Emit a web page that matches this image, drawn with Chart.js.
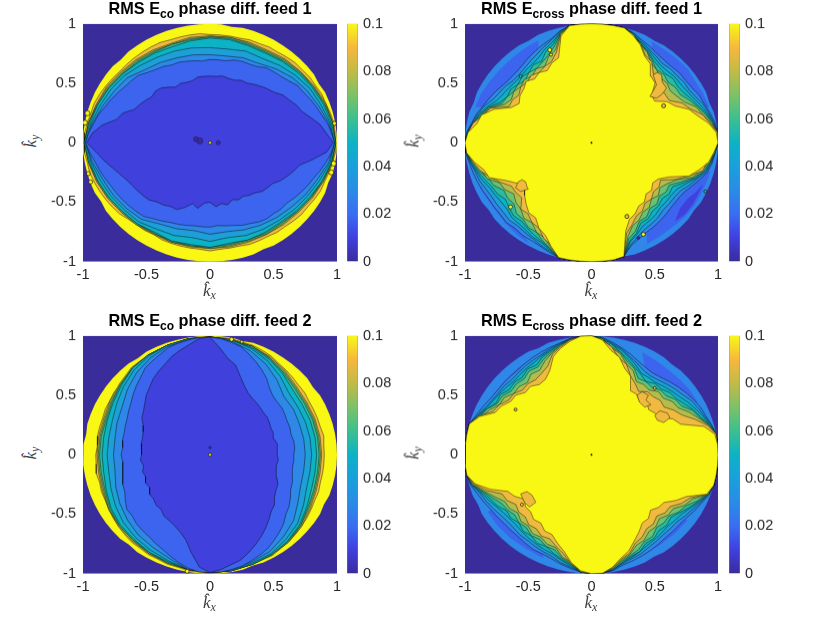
<!DOCTYPE html>
<html><head><meta charset="utf-8">
<script src="https://cdn.jsdelivr.net/npm/chart.js@4"></script>
<style>
html,body{margin:0;padding:0;background:#fff;width:830px;height:623px;overflow:hidden}
canvas{position:absolute;display:block}
.t{position:absolute;font:bold 16.3px "Liberation Sans",sans-serif;color:#000;white-space:nowrap;transform:translateX(-50%)}
.t sub{font-size:12px;line-height:0;vertical-align:-4px}
.l{position:absolute;font:italic 17px "Liberation Serif",serif;color:#404040;white-space:nowrap}
.l sub{font-size:12px;line-height:0;vertical-align:-3px}
</style></head><body>
<script>
const xTicks=[-1,-0.5,0,0.5,1];
const yTicks=[-1,-0.5,0,0.5,1];
const barTicks=[0,0.02,0.04,0.06,0.08,0.1];
const titles=[['RMS E','co',' phase diff. feed 1'],['RMS E','cross',' phase diff. feed 1'],['RMS E','co',' phase diff. feed 2'],['RMS E','cross',' phase diff. feed 2']];
const bandColors=['#3a2c9b','#4040dc','#3d64ee','#2f87e8','#1f9fd8','#0db3c4','#2cbba0','#6cc273','#b4bd4c','#f0b93f','#f9f815'];
const barStops=['#3a2c9b','#4040e0','#3a6ef2','#2a8ce6','#1aa0dc','#0eb2c6','#3cc08f','#7cc268','#c2bb48','#f6b83e','#f9f815'];
const square=[[-1,-1],[1,-1],[1,1],[-1,1]];

/* Eco feed 1: radius (percent of unit circle) of each level's contour, equally spaced in angle from 0 deg */
const a_rim=[100,100,100,100,100,100,99,100,100,100,100,100,100,100,100,100,99,100,100,100,100,100,100,100,100,100,100,99,100,100,100,100,100,100,100,100,100,100,100,100,100,100,99,100,100,100,100,100,100,100,100,100,100,100,100,100,100,100,100,99,100,100,100,100,100,100,100,100,99,100,100,100];
const a_10=[99,99,99,98,97,97,96,96,95,95,94,93,93,92,92,91,91,91,91,92,92,92,92,93,93,93,93,93,93,94,95,96,97,97,98,99,99,99,98,98,97,96,95,94,93,91,90,90,89,90,90,90,90,90,91,90,90,90,91,91,91,92,92,93,94,94,95,96,96,97,98,99];
const a_9=[99,98,97,95,93,92,90,90,90,90,90,89,90,91,92,94,95,97,99,97,95,93,91,90,89,89,89,89,89,89,89,90,91,93,95,98];
const a_8=[99,98,96,94,93,91,89,89,90,89,89,88,89,90,91,93,95,97,99,97,95,93,91,90,88,89,88,89,88,88,89,89,90,92,95,97];
const a_7=[99,98,96,94,92,90,88,88,89,89,88,88,88,89,90,92,94,97,99,97,94,92,90,89,88,88,88,88,87,87,88,88,90,92,94,97];
const a_6=[99,97,95,93,91,89,87,87,88,88,87,86,87,88,90,92,94,96,99,96,94,92,90,89,87,88,87,88,86,87,87,87,89,91,94,97];
const a_5=[98,96,93,91,88,85,82,82,80,80,81,82,83,85,88,90,92,95,98,95,92,90,88,87,84,83,81,83,81,83,84,85,87,89,92,96];
const a_4=[98,95,91,88,85,81,77,76,74,74,75,76,78,80,85,87,90,94,98,94,90,88,86,84,79,77,75,77,76,78,80,82,84,87,90,95];
const a_3=[98,96,94,91,89,87,85,84,81,79,78,77,74,73,73,72,70,70,70,69,70,71,72,72,74,75,77,80,81,82,84,86,88,91,93,96,98,95,92,90,88,86,85,84,83,82,81,78,76,74,73,72,71,71,71,70,71,72,74,75,77,78,78,79,79,81,83,85,87,90,93,96];
const a_2=[97,92,88,82,77,75,72,70,66,64,62,60,58,58,56,56,57,56,56,56,56,54,54,55,54,57,60,61,60,62,64,66,73,76,86,93,97,90,85,80,76,73,71,70,69,68,65,64,62,62,58,53,56,51,50,54,52,54,51,53,52,54,55,58,59,60,64,67,70,73,82,92];

/* Ecross feed 1 */
const b_rim=[100,100,100,100,99,100,100,100,100,100,100,100,99,100,100,100,100,100,100,100,100,100,100,100,99,100,100,100,100,100,100,100,99,100,100,100,100,100,100,100,100,100,100,99,100,100,100,100,100,100,100,100,100,100,100,100,100,99,100,100,100,100,100,100,100,99,100,100,100,100,100,100];
const b_3=[100,100,99,97,95,94,92,91,91,90,90,91,93,95,98,100,100,100,100,100,100,97,93,91,89,87,85,84,84,85,87,89,91,94,96,99,100,100,98,97,96,95,94,94,94,95,94,95,95,96,98,100,100,100,100,100,100,99,92,89,87,86,85,84,83,83,84,87,91,95,97,98];
const b_4=[100,100,98,96,94,91,89,89,88,88,87,89,91,94,98,100,100,100,100,100,100,97,92,89,86,84,82,81,81,83,84,86,90,93,96,99,100,100,97,95,94,92,91,91,91,92,91,92,93,95,97,100,100,100,100,100,100,99,91,87,84,83,82,80,80,80,81,85,89,94,96,98];
const b_5=[100,100,98,95,92,89,87,86,86,85,85,87,90,93,97,100,100,100,100,100,100,96,90,87,83,81,80,79,79,80,81,83,88,92,95,99,100,99,97,94,92,89,88,87,87,89,89,90,92,93,96,100,100,100,100,100,100,99,89,85,81,80,79,77,77,77,78,82,88,93,96,98];
const b_6=[100,100,97,94,90,87,84,83,84,82,83,85,89,92,97,100,100,100,100,100,100,96,88,85,79,80,77,78,76,78,77,80,87,91,95,98,100,99,96,93,90,87,86,83,85,87,86,88,90,92,95,100,100,100,100,100,100,99,88,84,78,78,75,75,73,75,74,80,87,92,95,98];
const b_7=[100,100,97,93,89,85,81,81,79,81,80,84,88,92,97,100,100,100,100,100,100,95,86,81,78,76,77,74,76,75,77,78,86,91,95,98,100,99,96,92,87,85,80,81,80,84,84,87,87,91,95,100,100,100,100,100,100,99,86,82,76,76,72,73,70,72,71,78,86,92,95,98];
const b_8=[100,100,96,91,88,81,78,76,78,77,80,82,88,91,97,100,100,100,100,100,100,95,83,80,74,76,73,75,73,75,73,76,85,90,94,98,100,99,95,90,88,80,79,75,78,79,83,82,87,88,94,100,100,100,100,100,100,99,84,77,75,71,71,67,69,66,69,74,85,90,95,97];
const b_9=[100,100,95,91,83,79,71,71,71,77,76,83,85,92,95,100,100,100,100,100,100,94,81,75,74,72,74,72,73,70,72,72,85,89,95,98,100,99,95,91,85,79,73,73,72,79,78,82,83,89,92,100,100,100,100,100,100,99,81,76,71,70,66,67,64,65,63,73,82,91,93,97];
const b_10=[100,99,94,87,82,73,69,61,62,71,73,81,84,91,96,100,100,100,100,100,100,93,76,74,70,72,70,73,70,69,66,70,82,90,92,98,100,99,94,88,86,75,68,65,69,73,77,77,83,86,93,100,100,100,100,100,100,99,79,71,69,65,65,61,62,59,61,68,82,88,94,97];
const b_islands=[[[0.487,0.572],[0.52,0.59],[0.553,0.572],[0.56,0.51],[0.593,0.459],[0.56,0.41],[0.514,0.375],[0.461,0.389],[0.49,0.44],[0.514,0.487]],[[-0.58,-0.33],[-0.55,-0.31],[-0.52,-0.33],[-0.51,-0.37],[-0.5,-0.39],[-0.56,-0.41],[-0.6,-0.38]]];
const b_coreMid=[[[-0.92,0.3],[-0.87,0.42],[-0.8,0.52],[-0.72,0.62],[-0.62,0.72],[-0.52,0.8],[-0.42,0.86],[-0.42,0.72],[-0.46,0.66],[-0.55,0.56],[-0.64,0.46],[-0.71,0.38],[-0.8,0.3]],[[0.48,0.85],[0.58,0.78],[0.68,0.7],[0.76,0.62],[0.83,0.5],[0.88,0.42],[0.93,0.3],[0.83,0.29],[0.76,0.36],[0.7,0.43],[0.62,0.53],[0.55,0.61],[0.47,0.7]],[[-0.94,-0.22],[-0.87,-0.4],[-0.78,-0.54],[-0.68,-0.68],[-0.58,-0.78],[-0.49,-0.85],[-0.55,-0.76],[-0.64,-0.66],[-0.72,-0.56],[-0.8,-0.44],[-0.87,-0.32]],[[0.44,-0.85],[0.55,-0.78],[0.65,-0.7],[0.74,-0.62],[0.82,-0.52],[0.89,-0.38],[0.94,-0.24],[0.8,-0.27],[0.72,-0.36],[0.64,-0.42],[0.57,-0.5],[0.5,-0.59],[0.43,-0.68]]];
const b_coreLow=[[[0.66,-0.66],[0.74,-0.6],[0.8,-0.52],[0.85,-0.42],[0.88,-0.35],[0.82,-0.42],[0.76,-0.47],[0.7,-0.55]]];

/* Eco feed 2 */
const c_rim=[100,100,100,100,100,100,100,99,100,100,100,100,100,100,100,99,100,100,100,100,100,100,100,100,100,99,100,100,100,100,100,100,100,100,99,100,100,100,100,100,100,100,100,100,100,100,99,100,100,100,100,100,100,100,100,100,100,100,99,100,100,100,100,100,100,100,100,99,100,100,100,100];
const c_10=[90,90,91,90,90,90,90,91,91,92,93,94,96,97,98,98,99,99,99,99,99,98,98,97,96,95,94,93,92,92,91,91,90,90,90,89,90,90,91,90,91,91,92,93,94,95,96,96,97,97,98,98,99,99,100,99,99,98,98,97,97,96,96,95,94,93,92,91,91,90,90,90];
const c_9=[88,88,88,88,89,92,95,97,98,99,99,98,97,96,93,91,89,89,89,89,90,92,94,95,96,97,98,99,99,98,98,96,94,91,89,88];
const c_8=[87,87,87,87,88,91,94,97,98,99,99,98,97,95,92,90,88,88,88,88,89,92,93,94,96,97,98,99,99,98,97,96,93,90,88,87];
const c_7=[86,86,86,86,87,90,94,97,98,99,99,98,97,95,92,89,87,87,87,87,88,91,93,94,95,97,98,99,99,98,97,95,93,89,87,86];
const c_6=[84,84,84,84,85,89,93,96,98,99,99,98,97,95,91,88,86,85,85,85,87,90,92,93,95,96,98,99,99,98,97,95,92,88,85,84];
const c_5=[80,80,80,80,81,86,91,95,98,99,99,98,96,93,89,85,82,81,81,81,83,86,89,91,93,95,98,99,99,97,96,93,90,85,81,80];
const c_4=[75,75,75,76,76,82,88,93,97,99,98,97,94,90,85,80,78,76,76,76,79,82,85,88,90,93,98,99,98,96,94,90,86,80,76,75];
const c_3=[66,67,67,66,67,67,68,69,69,70,73,78,82,86,90,94,96,98,99,99,98,97,96,93,91,89,85,82,79,76,74,72,71,70,70,69,70,69,70,71,73,74,77,80,80,82,83,84,86,88,91,94,97,99,99,99,98,97,95,93,91,88,85,82,78,76,73,70,69,67,66,66];
const c_2=[53,53,54,52,53,53,54,55,55,56,57,58,60,64,70,78,82,90,99,98,94,91,88,84,81,78,74,71,67,64,62,58,56,55,55,54,54,55,53,55,54,56,55,58,58,60,60,63,64,66,69,74,84,95,99,97,94,92,88,84,80,76,72,68,66,62,60,59,56,54,53,54];

/* Ecross feed 2 */
const d_rim=[100,100,100,100,100,100,100,100,100,100,99,100,100,100,100,100,100,100,100,100,100,100,100,99,100,100,100,100,100,100,100,100,100,100,100,100,100,100,100,100,100,99,100,100,100,100,100,100,100,100,100,100,100,100,100,100,100,100,100,100,99,100,100,100,100,100,100,100,100,100,100,100];
const d_3=[100,100,100,98,96,95,93,91,89,87,85,84,85,87,90,93,96,99,100,100,99,97,96,95,94,93,92,92,92,92,93,95,97,100,100,100,100,100,100,99,96,94,92,91,90,90,90,91,92,92,93,95,97,99,100,100,99,96,95,94,93,92,91,91,91,92,94,96,99,100,100,100];
const d_4=[100,100,100,98,95,93,91,88,86,84,82,81,82,85,88,92,95,99,100,100,99,97,95,93,92,91,90,89,90,90,91,93,96,100,100,100,100,100,100,98,94,92,90,88,87,87,88,88,89,90,91,94,96,99,100,100,98,95,93,92,90,89,88,88,88,90,92,95,98,100,100,100];
const d_5=[100,100,100,97,94,91,88,85,83,81,79,79,79,83,87,91,94,98,100,100,99,96,94,92,90,89,88,87,88,89,90,92,96,100,100,100,100,100,100,98,93,90,87,85,84,84,85,86,87,88,89,92,95,99,100,100,98,94,92,90,88,87,86,85,86,87,90,94,98,100,100,100];
const d_6=[100,100,100,97,92,89,85,82,81,78,78,75,78,81,85,89,94,98,100,100,98,96,93,91,87,88,85,86,85,88,87,91,95,100,100,100,100,100,100,98,92,88,86,82,83,81,84,83,86,85,88,91,94,99,100,100,98,94,91,90,86,86,83,84,82,85,89,93,98,100,100,100];
const d_7=[100,100,100,96,91,88,82,81,77,77,74,75,74,80,83,89,92,98,100,100,98,95,92,89,85,86,83,84,83,86,86,91,94,100,100,100,100,100,100,97,91,86,82,81,79,81,80,83,82,85,85,90,93,99,100,100,97,93,90,88,84,84,80,81,80,84,86,92,97,100,100,100];
const d_8=[100,100,100,96,90,85,79,78,74,75,71,72,71,78,81,88,91,98,100,100,98,95,91,87,82,83,79,81,80,84,84,89,93,100,100,100,100,100,100,97,90,84,79,79,76,79,78,81,80,83,83,89,92,99,100,100,97,92,89,84,83,79,79,76,79,79,85,88,98,100,100,100];
const d_9=[100,100,100,95,87,79,75,70,71,69,69,65,69,73,81,84,92,97,100,100,98,94,90,82,79,77,78,77,80,80,84,86,95,100,100,100,100,100,100,96,88,78,77,73,75,74,77,76,79,78,82,86,93,98,100,100,96,91,88,82,80,76,76,73,76,76,82,86,97,100,100,100];
const d_10=[100,100,99,92,75,71,63,61,59,62,59,62,62,73,77,85,89,97,100,100,97,93,88,78,73,72,75,74,78,78,82,84,94,100,100,100,100,100,100,95,85,73,70,65,68,68,71,70,74,74,79,84,92,98,100,100,96,90,86,80,75,70,70,66,69,70,77,83,97,100,100,100];
const d_islands=[[[0.36,0.5],[0.4,0.53],[0.45,0.5],[0.43,0.46],[0.47,0.42],[0.42,0.4],[0.38,0.44]],[[0.5,0.33],[0.54,0.37],[0.6,0.35],[0.62,0.31],[0.57,0.27],[0.52,0.29]],[[-0.56,-0.33],[-0.51,-0.31],[-0.47,-0.34],[-0.44,-0.4],[-0.49,-0.44],[-0.53,-0.4]]];
const d_coreMid=[[[0.4,0.86],[0.5,0.8],[0.6,0.72],[0.7,0.63],[0.78,0.54],[0.84,0.44],[0.72,0.43],[0.65,0.48],[0.57,0.55],[0.5,0.63],[0.43,0.7]],[[-0.78,0.5],[-0.68,0.63],[-0.58,0.73],[-0.48,0.8],[-0.36,0.87],[-0.39,0.72],[-0.46,0.65],[-0.55,0.57],[-0.65,0.46],[-0.7,0.4]],[[-0.82,-0.48],[-0.74,-0.6],[-0.64,-0.7],[-0.52,-0.79],[-0.38,-0.87],[-0.4,-0.72],[-0.48,-0.65],[-0.57,-0.57],[-0.66,-0.48],[-0.71,-0.4]],[[0.3,-0.9],[0.42,-0.84],[0.54,-0.76],[0.66,-0.66],[0.76,-0.55],[0.65,-0.52],[0.55,-0.59],[0.44,-0.67],[0.33,-0.75]]];
const d_coreLow=[];

/* small spots: x, y, band colour index, radius in px */
const a_spots=[[-0.965,0.248,10,2.5],[-0.984,0.169,10,2.5],[0.98,0.163,10,2],[0.974,-0.175,10,2.5],[0.955,-0.25,10,2.5],[-0.958,-0.26,10,2],[-0.94,-0.33,10,2],[-0.11,0.03,0,2.5],[-0.08,0.015,0,3],[0.065,0,0,2],[0,0,10,1.5]];
const b_spots=[[0,0,0,0.7],[-0.33,0.78,10,2],[-0.56,0.56,6,1.5],[-0.64,-0.54,10,2],[0.41,-0.77,10,2],[0.9,-0.41,6,1.5],[0.57,0.31,9,2],[0.28,-0.62,9,2],[-0.32,0.74,10,1.5],[0.37,-0.8,0,1.5]];
const c_spots=[[0,0,10,1.5],[0,0.06,0,1.2],[-0.18,-0.98,10,2],[0.17,0.97,10,2],[0.25,0.95,10,1.5]];
const d_spots=[[0,0,0,0.7],[0.5,0.56,9,1.5],[-0.55,-0.42,10,1.5],[-0.6,0.38,9,1.5]];

const panels=[
 {rim:a_rim,lv:[a_10,a_9,a_8,a_7,a_6,a_5,a_4,a_3,a_2],spots:a_spots,eco:true,left:83,w:254,top:24,barL:347,barW:11},
 {rim:b_rim,lv:[b_3,b_4,b_5,b_6,b_7,b_8,b_9,b_10],spots:b_spots,mid:b_coreMid,low:b_coreLow,isl:b_islands,eco:false,left:465,w:253,top:24,barL:729,barW:11},
 {rim:c_rim,lv:[c_10,c_9,c_8,c_7,c_6,c_5,c_4,c_3,c_2],spots:c_spots,eco:true,left:83,w:254,top:336,barL:347,barW:11},
 {rim:d_rim,lv:[d_3,d_4,d_5,d_6,d_7,d_8,d_9,d_10],spots:d_spots,mid:d_coreMid,low:d_coreLow,isl:d_islands,eco:false,left:465,w:253,top:336,barL:729,barW:11}
];
const H=237, PADR=12, YW=40, XH=24;
const tickFont={family:'"Liberation Sans",sans-serif',size:14.5};
const ink='#262626';

function ring(rs){
  const pts=rs.map((r,i)=>{const a=2*Math.PI*i/rs.length;return {x:r/100*Math.cos(a),y:r/100*Math.sin(a)};});
  pts.push(pts[0]);
  return pts;
}
function poly(list){
  const pts=list.map(q=>({x:q[0],y:q[1]}));
  pts.push(pts[0]);
  return pts;
}
function shape(data,color,line,ord){
  return {type:'scatter',data,showLine:true,fill:'shape',backgroundColor:color,borderColor:line?'rgba(0,0,0,0.72)':'transparent',borderWidth:line?0.6:0,pointRadius:0,tension:0,order:ord};
}
function addCanvas(l,t,w,h){
  const c=document.createElement('canvas');
  c.width=w;c.height=h;c.style.left=l+'px';c.style.top=t+'px';c.style.width=w+'px';c.style.height=h+'px';
  document.body.appendChild(c);return c.getContext('2d');
}
function place(chart,leftWanted,topWanted,wantW,wantH){
  for(let i=0;i<3;i++){
    const a=chart.chartArea, dh=wantH-(a.bottom-a.top), dw=wantW-(a.right-a.left);
    if(Math.abs(dh)>0.01||Math.abs(dw)>0.01) chart.resize(chart.width+dw,chart.height+dh);
  }
  chart.canvas.style.top=(topWanted-chart.chartArea.top)+'px';
  chart.canvas.style.left=(leftWanted-chart.chartArea.left)+'px';
}
panels.forEach((p,n)=>{
  const sets=[];
  let ord=1000;
  sets.push(shape(poly(square),bandColors[0],false,ord--));
  sets.push(shape(ring(p.rim),p.eco?bandColors[10]:bandColors[3],false,ord--));
  (p.mid||[]).forEach(q=>sets.push(shape(poly(q),bandColors[2],false,ord--)));
  (p.low||[]).forEach(q=>sets.push(shape(poly(q),bandColors[1],false,ord--)));
  p.lv.forEach((rs,i)=>{
    const col=p.eco?bandColors[9-i]:bandColors[i+3];
    sets.push(shape(ring(rs),col,true,ord--));
  });
  (p.isl||[]).forEach(q=>sets.push(shape(poly(q),bandColors[9],true,ord--)));
  p.spots.forEach(s=>{
    sets.push({type:'scatter',data:[{x:s[0],y:s[1]}],showLine:false,pointRadius:s[3],pointBorderWidth:0.7,pointBorderColor:s[2]===0&&s[3]>1?'rgba(30,20,90,.8)':'#111',pointBackgroundColor:bandColors[s[2]],order:ord--});
  });
  const main=new Chart(addCanvas(p.left-YW,0,YW+p.w+PADR,H+XH+20),{
    type:'scatter',
    data:{datasets:sets},
    options:{
      animation:false,responsive:false,maintainAspectRatio:false,devicePixelRatio:1,
      layout:{padding:{top:2,right:PADR,left:0,bottom:0}},
      plugins:{legend:{display:false},tooltip:{enabled:false}},
      scales:{
        x:{type:'linear',min:-1,max:1,afterFit:s=>{s.height=XH;},afterBuildTicks:s=>{s.ticks=xTicks.map(v=>({value:v}));},
           grid:{drawOnChartArea:false,drawTicks:false},border:{display:false},
           ticks:{font:tickFont,color:ink,padding:5,maxRotation:0,autoSkip:false,callback:v=>String(v)}},
        y:{type:'linear',min:-1,max:1,afterFit:s=>{s.width=YW;},afterBuildTicks:s=>{s.ticks=yTicks.map(v=>({value:v}));},
           grid:{drawOnChartArea:false,drawTicks:false},border:{display:false},
           ticks:{font:tickFont,color:ink,padding:7,autoSkip:false,callback:v=>String(v)}}
      }
    }
  });
  place(main,p.left,p.top,p.w,H);
  /* colour bar */
  const bar=new Chart(addCanvas(p.barL,0,p.barW+48,H+40),{
    type:'bar',
    data:{labels:[''],datasets:[{data:[[0,0.1]],barPercentage:1,categoryPercentage:1,borderWidth:0.7,borderColor:'rgba(38,38,38,0.55)',
      backgroundColor:c=>{
        const a=c.chart.chartArea; if(!a) return barStops[0];
        const g=c.chart.ctx.createLinearGradient(0,a.bottom,0,a.top);
        barStops.forEach((col,i)=>g.addColorStop(i/(barStops.length-1),col));
        return g;
      }}]},
    options:{
      animation:false,responsive:false,maintainAspectRatio:false,devicePixelRatio:1,
      layout:{padding:{top:2,bottom:10,left:0,right:0}},
      plugins:{legend:{display:false},tooltip:{enabled:false}},
      scales:{
        x:{display:false},
        y:{position:'right',min:0,max:0.1,afterFit:s=>{s.width=48;},afterBuildTicks:s=>{s.ticks=barTicks.map(v=>({value:v}));},
           grid:{drawOnChartArea:false,drawTicks:false},border:{display:false},
           ticks:{font:tickFont,color:ink,padding:5,autoSkip:false,callback:v=>String(v)}}
      }
    }
  });
  place(bar,p.barL,p.top,p.barW,H);
  /* title and axis labels */
  const cx=p.left+p.w/2;
  const t=document.createElement('div');t.className='t';t.style.left=cx+'px';t.style.top=(p.top-25)+'px';
  const tt=titles[n];t.innerHTML=tt[0]+'<sub>'+tt[1]+'</sub>'+tt[2];document.body.appendChild(t);
  const xl=document.createElement('div');xl.className='l';xl.style.left=(cx-7)+'px';xl.style.top=(p.top+H+20)+'px';
  xl.innerHTML='k\u0302<sub>x</sub>';document.body.appendChild(xl);
  const yl=document.createElement('div');yl.className='l';yl.style.left=(p.left-58)+'px';yl.style.top=(p.top+H/2-12)+'px';yl.style.transform='rotate(-90deg)';
  yl.innerHTML='k\u0302<sub>y</sub>';document.body.appendChild(yl);
});
</script>
</body></html>
